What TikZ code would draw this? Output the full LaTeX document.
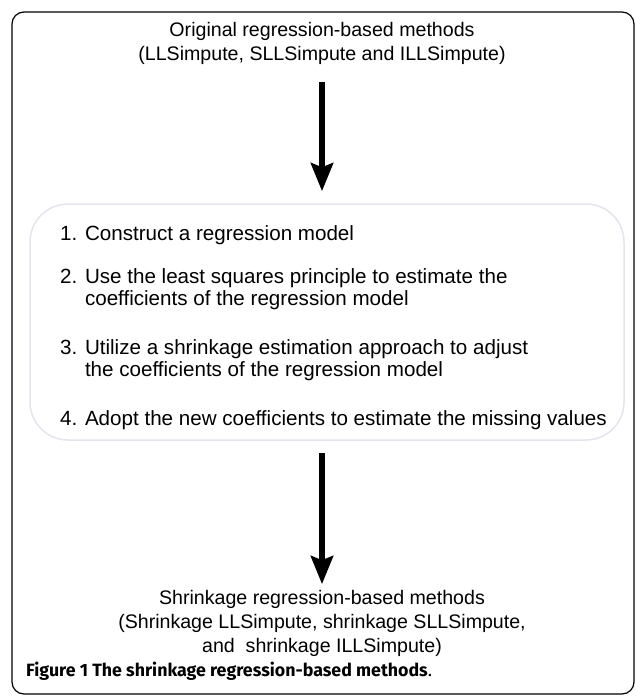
\documentclass[tikz,border=0pt]{standalone}
\usepackage{fontspec}
\setmainfont{Liberation Sans}
\newfontfamily\capfont{Fira Sans}
\usetikzlibrary{arrows.meta,positioning}
\definecolor{boxgray}{RGB}{226,229,236}

\begin{document}
\begin{tikzpicture}[
    x=1pt, y=-1pt,
    frame/.style={draw, line width=1.2pt, rounded corners=12pt},
    stepsbox/.style={draw=boxgray, line width=1.5pt, rounded corners=38pt, minimum width=594pt, minimum height=236pt},
    maintext/.style={font=\fontsize{19.6}{24}\selectfont, align=center, inner sep=0pt},
    steptext/.style={font=\fontsize{20.6}{22}\selectfont, align=left, anchor=west, inner sep=0pt},
    bigarrow/.style={-{Stealth[width=22pt, length=28pt, inset=4pt]}, line width=6pt},
    caption/.style={font=\capfont\fontsize{17.8}{20}\selectfont, anchor=west, inner sep=0pt}
]
    \useasboundingbox (0,0) rectangle (635,696);

    % Outer frame
    \node[frame, minimum width=622pt, minimum height=682pt] (frame) at (323,353) {};

    % Original methods
    \node[maintext] (orig) at (322,43) {Original regression-based methods\\(LLSimpute, SLLSimpute and ILLSimpute)};

    % Steps of the shrinkage approach
    \node[stepsbox] (steps) at (327,322) {};
    \node[steptext] (s1) at (60,235) {1. Construct a regression model};
    \node[steptext] (s2) at (60,289) {2. Use the least squares principle to estimate the\\\phantom{2. }coefficients of the regression model};
    \node[steptext] (s3) at (60,360) {3. Utilize a shrinkage estimation approach to adjust\\\phantom{3. }the coefficients of the regression model};
    \node[steptext] (s4) at (60,420) {4. Adopt the new coefficients to estimate the missing values};

    % Shrinkage methods
    \node[maintext] (result) at (322,623.5) {Shrinkage regression-based methods\\(Shrinkage LLSimpute, shrinkage SLLSimpute,\\and\ \ shrinkage ILLSimpute)};

    % Arrows
    \draw[bigarrow, shorten <=18pt, shorten >=12pt] (orig.south) -- (orig.south |- steps.north);
    \draw[bigarrow, shorten <=12pt, shorten >=6pt] (result.north |- steps.south) -- (result.north);

    % Caption
    \node[caption] (cap) at (26,671) {{\bfseries Figure 1 The shrinkage regression-based methods}.};
\end{tikzpicture}
\end{document}
